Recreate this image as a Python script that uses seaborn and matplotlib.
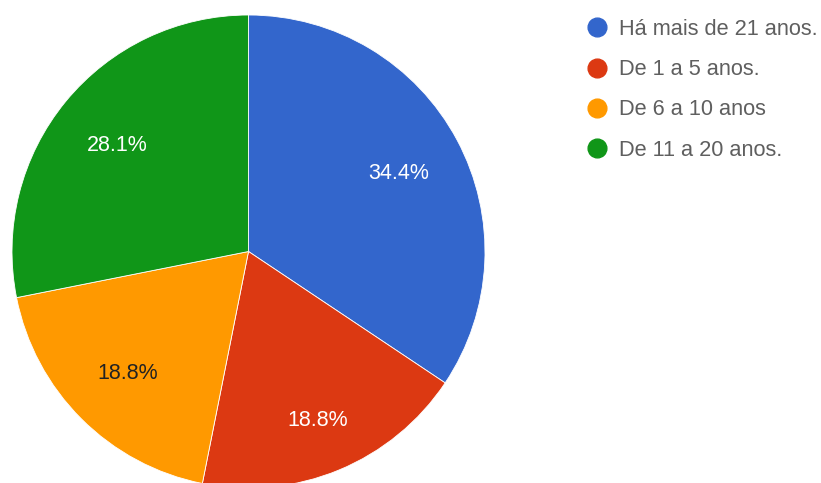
import matplotlib
matplotlib.use('Agg')
import matplotlib.pyplot as plt
import seaborn as sns
from matplotlib.lines import Line2D

sns.set_theme(style='white')
plt.rcParams['font.family'] = ['Liberation Sans', 'DejaVu Sans']

# dados
categorias = ['Há mais de 21 anos.', 'De 1 a 5 anos.', 'De 6 a 10 anos', 'De 11 a 20 anos.']
respostas = [11, 6, 6, 9]
cores = ['#3366cc', '#dc3912', '#ff9900', '#109618']
cor_texto = ['white', 'white', '#222222', 'white']
dist_rotulo = [1.0, 1.06, 1.0, 1.0]  # ajuste radial dos rótulos

centro = (248.5, 483 - 251.5)

fig = plt.figure(figsize=(8.21, 4.83), dpi=100)
ax = fig.add_axes([0, 0, 1, 1])

wedges, textos, pct = ax.pie(
    respostas,
    colors=cores,
    startangle=90,
    counterclock=False,
    center=centro,
    radius=236.5,
    autopct='%1.1f%%',
    pctdistance=0.72,
    wedgeprops=dict(edgecolor='white', linewidth=0.6),
    textprops=dict(fontsize=15.5),
    frame=True,
)
for t, c, k in zip(pct, cor_texto, dist_rotulo):
    t.set_color(c)
    x, y = t.get_position()
    t.set_position((centro[0] + (x - centro[0]) * k,
                    centro[1] + (y - centro[1]) * k - 2))

ax.set_xlim(0, 821)
ax.set_ylim(0, 483)
ax.set_aspect('equal')
ax.axis('off')

handles = [Line2D([], [], marker='o', linestyle='', markersize=13.5,
                  markerfacecolor=c, markeredgecolor=c) for c in cores]
leg = ax.legend(handles, categorias, loc='upper left', bbox_to_anchor=(586 / 821, 1 - 19 / 483),
                frameon=False, fontsize=15.7, labelspacing=0.88, handletextpad=0.5,
                borderaxespad=0, borderpad=0, handlelength=1.0)
for t in leg.get_texts():
    t.set_color('#5f5f5f')

plt.savefig('out.png', dpi=100)
